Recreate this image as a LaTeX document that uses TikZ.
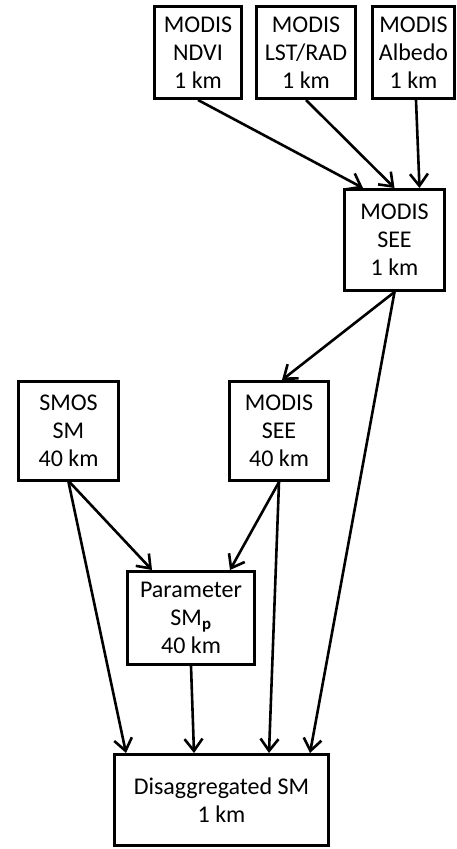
\documentclass[tikz,border=0pt]{standalone}
\usepackage{fontspec}
\setmainfont{Carlito}
\usetikzlibrary{arrows.meta}

\begin{document}
\begin{tikzpicture}[x=1pt, y=-1pt,
    box/.style={draw, line width=3pt, align=center, inner sep=0pt,
      font=\fontsize{24}{28}\selectfont},
    link/.style={-{Straight Barb[length=12pt, width=18pt, line width=2.6pt]}, line width=2.6pt}]
  \useasboundingbox (0,0) rectangle (456,849);
  % MODIS products at 1 km
  \node[box, minimum width=87pt, minimum height=92pt]  (ndvi)   at (198,52.5)   {MODIS\\NDVI\\1 km};
  \node[box, minimum width=99pt, minimum height=92pt]  (lst)    at (306,52.5)   {MODIS\\LST/RAD\\1 km};
  \node[box, minimum width=82pt, minimum height=92pt]  (albedo) at (413.5,52.5) {MODIS\\Albedo\\1 km};
  \node[box, minimum width=100pt, minimum height=101pt] (see1)  at (394.5,240)  {MODIS\\SEE\\1 km};
  % coarse resolution
  \node[box, minimum width=100pt, minimum height=99pt] (smos)   at (68.5,431)   {SMOS\\SM\\40 km};
  \node[box, minimum width=99pt, minimum height=99pt]  (see40)  at (279,431)    {MODIS\\SEE\\40 km};
  \node[box, minimum width=127pt, minimum height=93pt] (param)  at (191,618)    {Parameter\\SM\textsubscript{\textbf{p}}\\40 km};
  \node[box, minimum width=214pt, minimum height=91pt] (disagg) at (221.5,800)  {Disaggregated SM\\1 km};

  \draw[link] (ndvi.south) -- ([xshift=20pt]see1.north west);
  \draw[link] (lst.south) -- (see1.north);
  \draw[link] ([xshift=2.5pt]albedo.south) -- ([xshift=25pt]see1.north);
  \draw[link] (see1.south) -- ([xshift=3pt]see40.north);
  \draw[link] (see1.south) -- ([xshift=-20pt]disagg.north east);
  \draw[link] (smos.south) -- ([xshift=13pt]disagg.north west);
  \draw[link] ([xshift=1pt]smos.south) -- ([xshift=26pt]param.north west);
  \draw[link] (see40.south) -- ([xshift=-26pt]param.north east);
  \draw[link] (see40.south) -- ([xshift=-61pt]disagg.north east);
  \draw[link] (param.south) -- ([xshift=-27.5pt]disagg.north);
\end{tikzpicture}
\end{document}
